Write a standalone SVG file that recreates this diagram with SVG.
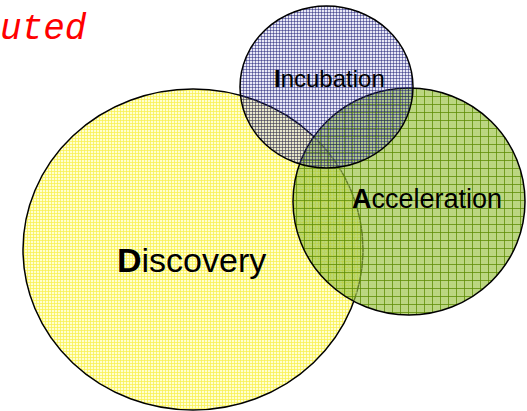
<svg xmlns="http://www.w3.org/2000/svg" width="527" height="411" viewBox="0 0 527 411">
<style>
.lbl{font-family:"Liberation Sans",Arial,sans-serif;fill:#000}
.circ{stroke:#000;stroke-width:1.5}
</style>
<defs>
<pattern id="pd" width="3" height="3" patternUnits="userSpaceOnUse">
<rect width="3" height="3" fill="#ffffd0"/>
<path d="M0 0.5H3M0.5 0V3" stroke="#f8f050" stroke-width="1" stroke-opacity="0.75"/>
</pattern>
<pattern id="pi" width="3" height="3" patternUnits="userSpaceOnUse">
<rect width="3" height="3" fill="#6060c0" fill-opacity="0.15"/>
<path d="M0 0.5H3M0.5 0V3" stroke="#202078" stroke-width="1" stroke-opacity="0.5"/>
</pattern>
<pattern id="pa" width="8" height="8" patternUnits="userSpaceOnUse">
<rect width="8" height="8" fill="#98c040" fill-opacity="0.65"/>
<path d="M0 4.5H8M4.5 0V8" stroke="#b8d878" stroke-width="1" stroke-opacity="0.4"/>
<path d="M0 0.5H8M0.5 0V8" stroke="#5a8a00" stroke-width="1" stroke-opacity="0.75"/>
</pattern>
</defs>
<rect width="527" height="411" fill="#fff"/>
<text x="0" y="39" font-family="Liberation Mono,monospace" font-style="italic" font-size="36" fill="#ff0000">uted</text>
<g id="discovery">
<ellipse class="circ" cx="193" cy="249.5" rx="170" ry="160.5" fill="url(#pd)"/>
<text class="lbl" x="117" y="272" font-size="34"><tspan font-weight="bold">D</tspan>iscovery</text>
</g>
<g id="acceleration">
<ellipse class="circ" cx="409" cy="201.5" rx="116" ry="113.5" fill="url(#pa)"/>
<text class="lbl" x="352" y="208" font-size="27"><tspan font-weight="bold">A</tspan>cceleration</text>
</g>
<g id="incubation">
<ellipse class="circ" cx="326.5" cy="87" rx="86.5" ry="81" fill="url(#pi)"/>
<text class="lbl" x="274" y="87" font-size="24"><tspan font-weight="bold">I</tspan>ncubation</text>
</g>
<g id="connectors"/>
</svg>
